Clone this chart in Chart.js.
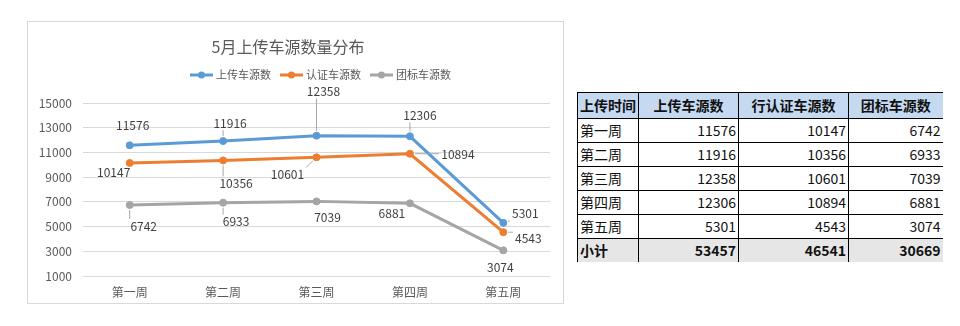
<!DOCTYPE html>
<html>
<head>
<meta charset="utf-8">
<script src="https://cdn.jsdelivr.net/npm/chart.js@4.4.1/dist/chart.umd.min.js"></script>
<style>
  body { margin: 0; width: 960px; height: 326px; background: #fff; position: relative; overflow: hidden;
         font-family: "Noto Sans CJK SC", "Noto Sans", sans-serif; }
  #chartBox { position: absolute; left: 27px; top: 21px; width: 535px; height: 281px; border: 1px solid #D9D9D9; }
  #weekTable { position: absolute; left: 577px; top: 92px; border-collapse: collapse; table-layout: fixed;
               font-size: 14px; color: #111; }
  #weekTable td, #weekTable th { border: 1px solid #000; padding: 0 2px; height: 23px; line-height: 23px;
               white-space: nowrap; overflow: hidden; }
  #weekTable th { background: #C5D9F1; font-weight: bold; text-align: center; height: 25px; line-height: 25px; }
  #weekTable th:first-child, #weekTable td:first-child { text-align: left; }
  #weekTable td { text-align: right; }
  #weekTable tr > :last-child { border-right: none; }
  #weekTable tr.total td { background: #E7E6E6; font-weight: bold; border-bottom: none; }
</style>
</head>
<body>
<div id="chartBox"><canvas id="trendChart" width="535" height="281"></canvas></div>
<table id="weekTable">
  <colgroup><col style="width:61px"><col style="width:100px"><col style="width:110px"><col style="width:94px"></colgroup>
  <thead><tr id="tableHead"></tr></thead>
  <tbody id="tableBody"></tbody>
</table>
<script>
// 每周车源数据
const weeks = ['第一周', '第二周', '第三周', '第四周', '第五周'];
const uploadCounts = [11576, 11916, 12358, 12306, 5301];
const certifiedCounts = [10147, 10356, 10601, 10894, 4543];
const groupCounts = [6742, 6933, 7039, 6881, 3074];
const seriesNames = ['上传车源数', '认证车源数', '团标车源数'];
const tableHeaders = ['上传时间', '上传车源数', '行认证车源数', '团标车源数'];
const totalLabel = '小计';
const yTicks = { min: 1000, max: 15000, step: 2000 };

const colors = ['#5B9BD5', '#ED7D31', '#A5A5A5'];
const FONT = '"Noto Sans CJK SC", "Noto Sans", sans-serif';

// 数据标签相对于点的偏移 [dx, dy, 是否画引导线]
const labelPlacement = [
  [[3, -20, 0], [7, -18, 1], [7, -44, 1], [10, -21, 1], [22, -9, 1]],
  [[-16, 9, 0], [13, 23, 1], [-29, 17, 1], [48, 1, 1], [25, 6, 1]],
  [[14, 21, 1], [13, 19, 1], [11, 16, 0], [-18, 10, 0], [-3, 17, 0]]
];

// 标题和图例
const headerPlugin = {
  id: 'header',
  afterDraw(chart) {
    const ctx = chart.ctx;
    ctx.save();
    ctx.fillStyle = '#595959';
    ctx.textAlign = 'center';
    ctx.textBaseline = 'middle';
    ctx.font = '16px ' + FONT;
    ctx.fillText('5月上传车源数量分布', 260, 25);

    ctx.font = '11px ' + FONT;
    ctx.textAlign = 'left';
    let x = 162;
    const y = 53;
    chart.data.datasets.forEach(ds => {
      ctx.strokeStyle = ds.borderColor;
      ctx.lineWidth = 3;
      ctx.beginPath(); ctx.moveTo(x, y); ctx.lineTo(x + 23, y); ctx.stroke();
      ctx.fillStyle = ds.borderColor;
      ctx.beginPath(); ctx.arc(x + 11.5, y, 3.5, 0, Math.PI * 2); ctx.fill();
      ctx.fillStyle = '#595959';
      ctx.fillText(ds.label, x + 26, y);
      x += 26 + ctx.measureText(ds.label).width + 9;
    });
    ctx.restore();
  }
};

// 数据标签（含引导线）
const labelPlugin = {
  id: 'pointLabels',
  afterDatasetsDraw(chart) {
    const ctx = chart.ctx;
    ctx.save();
    ctx.font = '12px ' + FONT;
    ctx.textAlign = 'center';
    ctx.textBaseline = 'middle';
    chart.data.datasets.forEach((ds, di) => {
      chart.getDatasetMeta(di).data.forEach((pt, i) => {
        const [dx, dy, lead] = labelPlacement[di][i];
        const x = pt.x + dx, y = pt.y + dy;
        const text = String(ds.data[i]);
        if (lead) {
          const w = ctx.measureText(text).width / 2 + 2, h = 7;
          const tx = Math.max(x - w, Math.min(pt.x, x + w));
          const ty = Math.max(y - h, Math.min(pt.y, y + h));
          const ang = Math.atan2(ty - pt.y, tx - pt.x);
          ctx.strokeStyle = '#A6A6A6';
          ctx.lineWidth = 1;
          ctx.beginPath();
          ctx.moveTo(pt.x + Math.cos(ang) * 5, pt.y + Math.sin(ang) * 5);
          ctx.lineTo(tx, ty);
          ctx.stroke();
        }
        ctx.fillStyle = '#404040';
        ctx.fillText(text, x, y);
      });
    });
    ctx.restore();
  }
};

function makeSeries(label, data, color) {
  return {
    label, data,
    borderColor: color, backgroundColor: color,
    borderWidth: 3, pointRadius: 3.5, pointBorderWidth: 1,
    pointBackgroundColor: color, pointBorderColor: color, tension: 0
  };
}

new Chart(document.getElementById('trendChart').getContext('2d'), {
  type: 'line',
  data: {
    labels: weeks,
    datasets: [
      makeSeries(seriesNames[0], uploadCounts, colors[0]),
      makeSeries(seriesNames[1], certifiedCounts, colors[1]),
      makeSeries(seriesNames[2], groupCounts, colors[2])
    ]
  },
  options: {
    responsive: false,
    animation: false,
    layout: { padding: { top: 81, right: 13, left: 0, bottom: 0 } },
    plugins: { legend: { display: false }, title: { display: false }, tooltip: { enabled: false } },
    scales: {
      x: {
        offset: true,
        grid: { display: false, drawTicks: false, offset: true },
        border: { display: false },
        ticks: { color: '#595959', font: { size: 12, family: FONT }, padding: 9 },
        afterFit(s) { s.height = 27; }
      },
      y: {
        min: yTicks.min, max: yTicks.max,
        grid: { color: '#D9D9D9', drawTicks: false },
        border: { display: false },
        ticks: { stepSize: yTicks.step, color: '#595959', font: { size: 12, family: FONT }, padding: 11,
                 callback: v => String(v) },
        afterFit(s) { s.width = 55; }
      }
    }
  },
  plugins: [headerPlugin, labelPlugin]
});

// 右侧汇总表
const head = document.getElementById('tableHead');
tableHeaders.forEach(h => { const th = document.createElement('th'); th.textContent = h; head.appendChild(th); });
const body = document.getElementById('tableBody');
const columns = [uploadCounts, certifiedCounts, groupCounts];
weeks.forEach((w, i) => {
  const tr = document.createElement('tr');
  tr.innerHTML = `<td>${w}</td>` + columns.map(c => `<td>${c[i]}</td>`).join('');
  body.appendChild(tr);
});
const totalRow = document.createElement('tr');
totalRow.className = 'total';
totalRow.innerHTML = `<td>${totalLabel}</td>` + columns.map(c => `<td>${c.reduce((a, b) => a + b, 0)}</td>`).join('');
body.appendChild(totalRow);
</script>
</body>
</html>
